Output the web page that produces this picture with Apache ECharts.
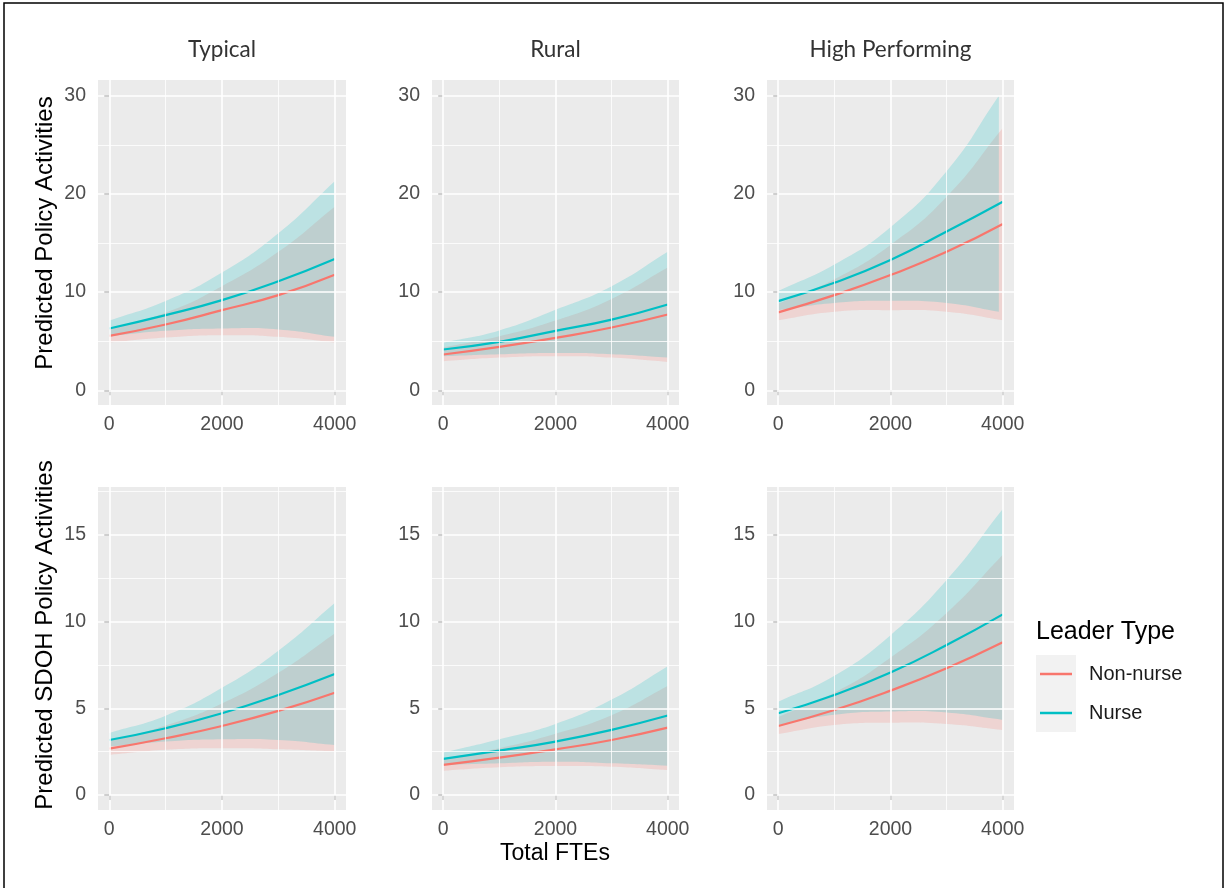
<!DOCTYPE html>
<html><head><meta charset="utf-8">
<script src="https://cdn.jsdelivr.net/npm/echarts@6/dist/echarts.min.js"></script>
<style>html,body{margin:0;padding:0;background:#fff}#chart{width:1225px;height:888px}</style>
</head><body><div id="chart"></div>
<script>
// ---------- data ----------
const fte = [0, 1000, 2000, 3000, 4000];
const facetNames = ['Typical', 'Rural', 'High Performing'];
const groupNames = ['Non-nurse', 'Nurse'];
const rowTitles = ['Predicted Policy Activities', 'Predicted SDOH Policy Activities'];
const xTitle = 'Total FTEs';
const legendTitle = 'Leader Type';
const xTicks = [0, 2000, 4000];
const xMinorTicks = [1000, 3000];
const policyTicks = [0, 10, 20, 30];
const policyMinorTicks = [5, 15, 25];
const sdohTicks = [0, 5, 10, 15];
const sdohMinorTicks = [2.5, 7.5, 12.5, 17.5];

// Predicted Policy Activities
const policyTypicalNonNurse   = [5.54, 6.70, 8.16, 9.69, 11.77];
const policyTypicalNonNurseLo = [4.86, 5.37, 5.60, 5.44, 4.86];
const policyTypicalNonNurseHi = [6.30, 7.90, 10.60, 14.10, 18.70];
const policyTypicalNurse      = [6.29, 7.65, 9.18, 11.10, 13.37];
const policyTypicalNurseLo    = [5.50, 6.05, 6.29, 6.20, 5.44];
const policyTypicalNurseHi    = [7.10, 9.10, 12.00, 16.00, 21.30];

const policyRuralNonNurse   = [3.64, 4.42, 5.34, 6.39, 7.72];
const policyRuralNonNurseLo = [2.96, 3.33, 3.47, 3.33, 2.89];
const policyRuralNonNurseHi = [4.35, 5.50, 7.10, 9.30, 12.50];
const policyRuralNurse      = [4.15, 4.93, 6.05, 7.20, 8.74];
const policyRuralNurseLo    = [3.47, 3.67, 3.80, 3.67, 3.33];
const policyRuralNurseHi    = [4.85, 6.10, 8.20, 10.60, 14.10];

const policyHighNonNurse   = [7.93, 9.69, 11.73, 14.10, 16.94];
const policyHighNonNurseLo = [7.14, 8.00, 8.16, 8.00, 7.14];
const policyHighNonNurseHi = [8.80, 11.30, 14.80, 19.70, 26.70];
const policyHighNurse      = [9.08, 10.95, 13.27, 16.16, 19.20];
const policyHighNurseCiFte = [0, 1000, 2000, 3000, 3930];
const policyHighNurseLo    = [8.16, 8.90, 9.12, 8.90, 8.00];
const policyHighNurseHi    = [10.10, 12.80, 16.60, 22.30, 30.00];

// Predicted SDOH Policy Activities
const sdohTypicalNonNurse   = [2.67, 3.27, 3.98, 4.85, 5.90];
const sdohTypicalNonNurseLo = [2.31, 2.60, 2.69, 2.63, 2.50];
const sdohTypicalNonNurseHi = [3.10, 4.00, 5.28, 7.05, 9.32];
const sdohTypicalNurse      = [3.17, 3.85, 4.71, 5.77, 6.98];
const sdohTypicalNurseLo    = [2.79, 3.08, 3.21, 3.17, 2.88];
const sdohTypicalNurseHi    = [3.58, 4.57, 6.18, 8.32, 11.07];

const sdohRuralNonNurse   = [1.73, 2.15, 2.63, 3.17, 3.88];
const sdohRuralNonNurseLo = [1.40, 1.60, 1.67, 1.63, 1.44];
const sdohRuralNonNurseHi = [2.10, 2.70, 3.53, 4.60, 6.28];
const sdohRuralNurse      = [2.08, 2.56, 3.08, 3.75, 4.58];
const sdohRuralNurseLo    = [1.73, 1.83, 1.92, 1.83, 1.69];
const sdohRuralNurseHi    = [2.45, 3.22, 4.10, 5.50, 7.43];

const sdohHighNonNurse   = [3.98, 4.90, 6.02, 7.31, 8.81];
const sdohHighNonNurseLo = [3.52, 4.04, 4.17, 4.10, 3.75];
const sdohHighNonNurseHi = [4.50, 5.90, 7.92, 10.50, 13.86];
const sdohHighNurse      = [4.71, 5.77, 7.06, 8.65, 10.42];
const sdohHighNurseLo    = [4.04, 4.62, 4.81, 4.75, 4.33];
const sdohHighNurseHi    = [5.38, 6.88, 9.22, 12.40, 16.50];

// ---------- assemble ----------
const colors = ['#F8766D', '#00BFC4'];
const FONT = '"Liberation Sans", Arial, Helvetica, sans-serif';
const SMOOTH = 0.5;
const panels = [
  {row:0, col:0, g:[[policyTypicalNonNurse, fte, policyTypicalNonNurseLo, policyTypicalNonNurseHi],[policyTypicalNurse, fte, policyTypicalNurseLo, policyTypicalNurseHi]]},
  {row:0, col:1, g:[[policyRuralNonNurse, fte, policyRuralNonNurseLo, policyRuralNonNurseHi],[policyRuralNurse, fte, policyRuralNurseLo, policyRuralNurseHi]]},
  {row:0, col:2, g:[[policyHighNonNurse, fte, policyHighNonNurseLo, policyHighNonNurseHi],[policyHighNurse, policyHighNurseCiFte, policyHighNurseLo, policyHighNurseHi]]},
  {row:1, col:0, g:[[sdohTypicalNonNurse, fte, sdohTypicalNonNurseLo, sdohTypicalNonNurseHi],[sdohTypicalNurse, fte, sdohTypicalNurseLo, sdohTypicalNurseHi]]},
  {row:1, col:1, g:[[sdohRuralNonNurse, fte, sdohRuralNonNurseLo, sdohRuralNonNurseHi],[sdohRuralNurse, fte, sdohRuralNurseLo, sdohRuralNurseHi]]},
  {row:1, col:2, g:[[sdohHighNonNurse, fte, sdohHighNonNurseLo, sdohHighNonNurseHi],[sdohHighNurse, fte, sdohHighNurseLo, sdohHighNurseHi]]}
];
const colLeft = [98, 432, 767];
const colWidth = [248, 247, 247];
const rowTop = [80, 487];
const rowHeight = [325, 323];
const rowY = [
  {min: -1.5, max: 31.6, ticks: policyTicks, minor: policyMinorTicks},
  {min: -0.87, max: 17.77, ticks: sdohTicks, minor: sdohMinorTicks}
];

// same bezier smoothing rule that ECharts line series uses
function smoothSegments(pts, s, moveFirst) {
  const n = pts.length, cps = [];
  for (let i = 0; i < n; i++) {
    const p = pts[i], prev = pts[i > 0 ? i - 1 : i], next = pts[i < n - 1 ? i + 1 : i];
    const vx = (next[0] - prev[0]) * s, vy = (next[1] - prev[1]) * s;
    let d0 = Math.hypot(p[0] - prev[0], p[1] - prev[1]);
    let d1 = Math.hypot(p[0] - next[0], p[1] - next[1]);
    const sum = d0 + d1;
    if (sum) { d0 /= sum; d1 /= sum; }
    cps.push([[p[0] - vx * d0, p[1] - vy * d0], [p[0] + vx * d1, p[1] + vy * d1]]);
  }
  let d = (moveFirst ? 'M' : 'L') + pts[0][0] + ' ' + pts[0][1];
  for (let i = 0; i < n - 1; i++) {
    const c1 = cps[i][1], c2 = cps[i + 1][0], p = pts[i + 1];
    d += ' C' + c1[0] + ' ' + c1[1] + ' ' + c2[0] + ' ' + c2[1] + ' ' + p[0] + ' ' + p[1];
  }
  return d;
}

const grid = [], xAxis = [], yAxis = [], series = [];
const zip = (a, b) => a.map((v, i) => [v, b[i]]);
const tickStyle = {show: true, length: 5, lineStyle: {color: '#333333', width: 1.9}};
const labelStyle = {color: '#4D4D4D', fontSize: 19.5, fontFamily: FONT, formatter: v => String(v)};

panels.forEach((p, i) => {
  const ry = rowY[p.row];
  grid.push({left: colLeft[p.col], top: rowTop[p.row], width: colWidth[p.col], height: rowHeight[p.row],
    show: true, backgroundColor: '#EBEBEB', borderWidth: 0, containLabel: false});
  xAxis.push({type: 'value', gridIndex: i, min: -200, max: 4200,
    axisLine: {show: false}, splitLine: {show: false},
    axisTick: Object.assign({customValues: xTicks}, tickStyle),
    axisLabel: Object.assign({customValues: xTicks, margin: 10}, labelStyle)});
  yAxis.push({type: 'value', gridIndex: i, min: ry.min, max: ry.max,
    axisLine: {show: false}, splitLine: {show: false},
    axisTick: Object.assign({customValues: ry.ticks}, tickStyle),
    axisLabel: Object.assign({customValues: ry.ticks, margin: 12}, labelStyle)});
  const ml = [];
  xTicks.forEach(v => ml.push({xAxis: v, lineStyle: {width: 1.6}}));
  xMinorTicks.forEach(v => ml.push({xAxis: v, lineStyle: {width: 0.8}}));
  ry.ticks.forEach(v => ml.push({yAxis: v, lineStyle: {width: 1.6}}));
  ry.minor.forEach(v => ml.push({yAxis: v, lineStyle: {width: 0.8}}));
  series.push({type: 'line', xAxisIndex: i, yAxisIndex: i, data: [], z: 1, silent: true,
    markLine: {silent: true, symbol: ['none', 'none'], label: {show: false}, animation: false,
      lineStyle: {color: '#FFFFFF', type: 'solid'}, emphasis: {disabled: true}, data: ml}});
  p.g.forEach((gd, g) => {
    const [fit, ciX, lo, hi] = gd;
    series.push({type: 'custom', xAxisIndex: i, yAxisIndex: i, coordinateSystem: 'cartesian2d',
      silent: true, z: 2, animation: false,
      data: ciX.map((x, k) => [x, lo[k], hi[k]]),
      encode: {x: 0, y: [1, 2]},
      renderItem: (params, api) => {
        if (params.dataIndex !== 0) return null;
        const up = ciX.map((x, k) => api.coord([x, hi[k]]));
        const dn = ciX.map((x, k) => api.coord([x, lo[k]])).reverse();
        const d = smoothSegments(up, SMOOTH, true) + ' ' + smoothSegments(dn, SMOOTH, false) + ' Z';
        return {type: 'path', shape: {pathData: d}, style: {fill: colors[g], opacity: 0.2}};
      }});
  });
  p.g.forEach((gd, g) => {
    series.push({type: 'line', name: groupNames[g], xAxisIndex: i, yAxisIndex: i, smooth: SMOOTH,
      data: zip(fte, gd[0]), symbol: 'none', lineStyle: {color: colors[g], width: 2.2},
      itemStyle: {color: colors[g]}, z: 3, animation: false});
  });
});

const graphic = [
  {type: 'rect', z: 0, shape: {x: 4, y: 3, width: 1219, height: 895}, style: {fill: 'none', stroke: '#000', lineWidth: 1.5}},
  {type: 'rect', z: 0, shape: {x: 1036, y: 655, width: 40, height: 77}, style: {fill: '#F2F2F2'}},
  {type: 'text', x: 1036, y: 632, style: {text: legendTitle, fontSize: 25, fontFamily: FONT, fill: '#000', textAlign: 'left', textVerticalAlign: 'middle'}},
  {type: 'text', x: 555, y: 854, style: {text: xTitle, fontSize: 23, fontFamily: FONT, fill: '#000', textAlign: 'center', textVerticalAlign: 'middle'}},
  {type: 'text', x: 45, y: 233, rotation: Math.PI / 2, style: {text: rowTitles[0], fontSize: 24, fontFamily: FONT, fill: '#000', textAlign: 'center', textVerticalAlign: 'middle'}},
  {type: 'text', x: 45, y: 635, rotation: Math.PI / 2, style: {text: rowTitles[1], fontSize: 24, fontFamily: FONT, fill: '#000', textAlign: 'center', textVerticalAlign: 'middle'}}
];
facetNames.forEach((n, c) => {
  graphic.push({type: 'text', x: colLeft[c] + colWidth[c] / 2, y: 50,
    style: {text: n, fontSize: 22.5, fontWeight: 'normal', fontFamily: 'Lato, "Open Sans", sans-serif', fill: '#333333', textAlign: 'center', textVerticalAlign: 'middle'}});
});

const chart = echarts.init(document.getElementById('chart'), null, {renderer: 'canvas'});
chart.setOption({
  animation: false,
  backgroundColor: '#FFFFFF',
  grid, xAxis, yAxis, series, graphic,
  legend: {data: groupNames, left: 1035, top: 657, orient: 'vertical', itemWidth: 32, itemHeight: 2.5,
    itemGap: 15, icon: 'rect', selectedMode: false,
    textStyle: {fontSize: 20, color: '#1A1A1A', fontFamily: FONT, lineHeight: 24, padding: [0, 0, 0, 12]}}
});
</script></body></html>
